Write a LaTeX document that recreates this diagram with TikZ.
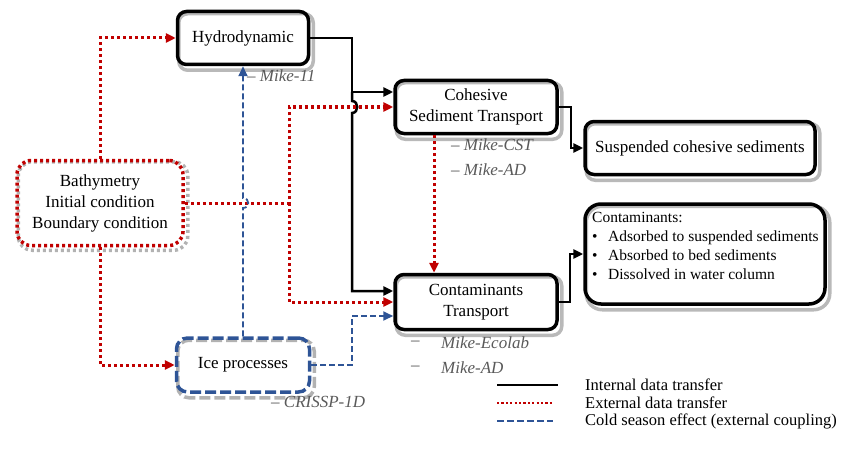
\documentclass[tikz,border=0pt]{standalone}
\usepackage{fontspec}
\setmainfont{Liberation Serif}
\usetikzlibrary{arrows.meta}
\definecolor{extred}{RGB}{192,0,0}
\definecolor{coldblue}{RGB}{46,84,150}
\definecolor{labgray}{RGB}{90,90,90}
\pgfdeclarelayer{background}
\pgfsetlayers{background,main}
\tikzset{
  tip/.style={-{Triangle[length=10pt,width=9pt]}},
  boxtext/.style={font=\fontsize{17}{21}\selectfont, align=center, inner sep=0pt},
  box/.style={boxtext, draw=black, line width=3.5pt, rounded corners=9pt},
  shbox/.style={draw=gray!55, line width=3.5pt, rounded corners=9pt},
  ebox/.style={boxtext, draw=extred, line width=3.5pt, dash pattern=on 3pt off 3pt, rounded corners=14pt},
  eshbox/.style={draw=gray!60, line width=3.5pt, dash pattern=on 3pt off 3pt, rounded corners=14pt},
  cbox/.style={boxtext, draw=coldblue, line width=3.5pt, dash pattern=on 11pt off 4pt, rounded corners=11pt},
  cshbox/.style={draw=gray!60, line width=3.5pt, dash pattern=on 11pt off 4pt, rounded corners=11pt},
  listtext/.style={anchor=north west, align=left, inner sep=0pt, font=\fontsize{15.5}{19}\selectfont},
  lab/.style={text=labgray, font=\fontsize{17}{20}\selectfont\itshape, anchor=west, inner sep=0pt},
  leg/.style={font=\fontsize{16.5}{20}\selectfont, anchor=west, inner sep=0pt},
  int/.style={draw=black, line width=2.5pt, tip},
  ext/.style={draw=extred, line width=3pt, dash pattern=on 3pt off 3pt, tip},
  cold/.style={draw=coldblue, line width=1.8pt, dash pattern=on 6pt off 3pt, tip},
}
\begin{document}
\begin{tikzpicture}[x=1pt,y=-1pt]
\useasboundingbox (0,0) rectangle (860,452);
% boxes
\node[box, minimum width=131pt, minimum height=53pt] (hyd) at (243,38) {Hydrodynamic};
\node[box, minimum width=162pt, minimum height=53pt] (coh) at (476,107) {Cohesive\\Sediment Transport};
\node[box, minimum width=230pt, minimum height=53pt] (susp) at (700,148) {Suspended cohesive sediments};
\node[box, minimum width=240pt, minimum height=100pt, rounded corners=16pt] (contam) at (705,254) {};
\node[listtext] (contamT) at (592,212) {Contaminants:\\
\makebox[16pt][l]{\textbullet}Adsorbed to suspended sediments\\
\makebox[16pt][l]{\textbullet}Absorbed to bed sediments\\
\makebox[16pt][l]{\textbullet}Dissolved in water column};
\node[box, minimum width=162pt, minimum height=55pt] (ct) at (476,302) {Contaminants\\Transport};
\node[ebox, minimum width=166pt, minimum height=85pt] (bathy) at (100,203) {Bathymetry\\Initial condition\\Boundary condition};
\node[cbox, minimum width=133pt, minimum height=54pt] (ice) at (243,365) {Ice processes};

% shadows
\begin{pgfonlayer}{background}
\foreach \n in {hyd,coh,susp,ct}
  \draw[shbox] ([shift={(3,4)}]\n.south west) rectangle ([shift={(3,4)}]\n.north east);
\draw[shbox, rounded corners=16pt] ([shift={(3,4)}]contam.south west) rectangle ([shift={(3,4)}]contam.north east);
\draw[eshbox] ([shift={(3,3)}]bathy.south west) rectangle ([shift={(3,3)}]bathy.north east);
\draw[cshbox] ([shift={(3,4)}]ice.south west) rectangle ([shift={(3,4)}]ice.north east);
\end{pgfonlayer}

% internal data transfer
\draw[int] (hyd.east) -- (352,38) -- (352,92) -- ([yshift=15pt]coh.west);
\draw[int] (352,92) -- (352,101) .. controls (359,101) and (359,113) .. (352,113) -- (352,291) -- ([yshift=11pt]ct.west);
\draw[int] (coh.east) -| (571,148) -- (susp.west);
\draw[int] (ct.east) -| (570,254) -- (contam.west);

% external data transfer
\draw[ext] (bathy.north) |- (hyd.west);
\draw[ext] (bathy.south) |- (ice.west);
\draw[ext] (bathy.east) -- (289,203) |- (coh.west);
\draw[ext] (289,203) |- (ct.west);
\draw[ext] ([xshift=-42pt]coh.south) -- ([xshift=-42pt]ct.north);

% cold season effect
\draw[cold] (ice.north) -- (243,208) .. controls (250,208) and (250,198) .. (243,198) -- (hyd.south);
\draw[cold] (ice.east) -| (352,316) -- ([yshift=-14pt]ct.west);

% model labels
\node[lab] (m11) at (247,76) {– Mike-11};
\node[lab] (mcst) at (451,145) {– Mike-CST};
\node[lab] (mad1) at (451,170) {– Mike-AD};
\node[lab] (d1) at (411,343) {–};
\node[lab] (meco) at (441,343) {Mike-Ecolab};
\node[lab] (d2) at (411,368) {–};
\node[lab] (mad2) at (441,368) {Mike-AD};
\node[lab] (cris) at (271,402) {– CRISSP-1D};

% legend
\coordinate (l1a) at (497,385); \coordinate (l1b) at (558,385);
\coordinate (l2a) at (497,403); \coordinate (l2b) at (553,403);
\coordinate (l3a) at (497,421); \coordinate (l3b) at (553,421);
\draw[black, line width=2.5pt] (l1a) -- (l1b);
\draw[extred, line width=2.2pt, dash pattern=on 2.2pt off 2.2pt] (l2a) -- (l2b);
\draw[coldblue, line width=2pt, dash pattern=on 7pt off 3pt] (l3a) -- (l3b);
\node[leg] (lt1) at (585,385) {Internal data transfer};
\node[leg] (lt2) at (585,403) {External data transfer};
\node[leg] (lt3) at (585,421) {Cold season effect (external coupling)};
\end{tikzpicture}
\end{document}
